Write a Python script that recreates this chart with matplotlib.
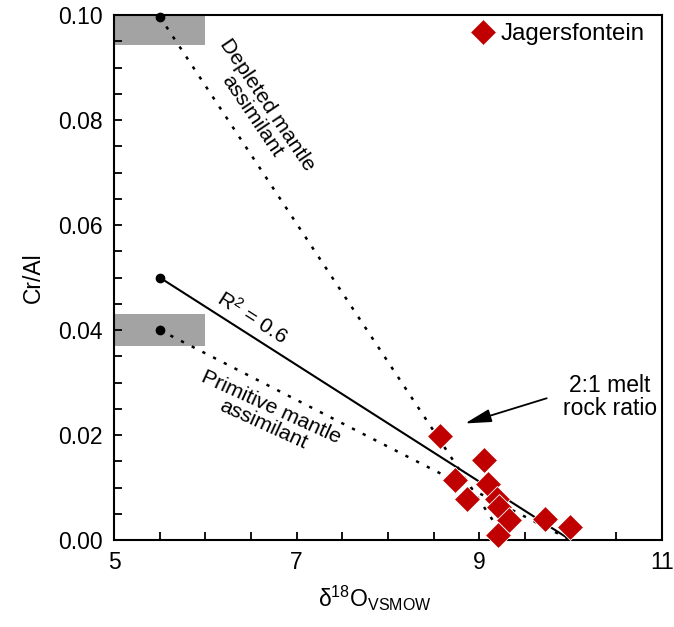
import matplotlib
matplotlib.use('Agg')
import matplotlib.pyplot as plt
from matplotlib.ticker import MultipleLocator
from matplotlib.patches import Rectangle

plt.rcParams['font.family'] = ['Liberation Sans', 'DejaVu Sans']
plt.rcParams['mathtext.fontset'] = 'custom'
plt.rcParams['mathtext.rm'] = 'Liberation Sans'
plt.rcParams['mathtext.it'] = 'Liberation Sans:italic'
plt.rcParams['mathtext.default'] = 'regular'

# Jagersfontein data
d18O = [8.57, 9.05, 8.73, 9.10, 8.87, 9.19, 9.21, 9.32, 9.72, 9.99, 9.20]
cr_al = [0.0198, 0.0152, 0.0114, 0.0107, 0.0078, 0.0078, 0.0062, 0.0039, 0.0040, 0.0024, 0.0010]

# regression / mixing lines
fit_x = [5.5, 10.0]
fit_y = [0.050, 0.0]
depleted_x = [5.5, 9.29]
depleted_y = [0.0997, 0.0]
primitive_x = [5.5, 10.0]
primitive_y = [0.040, 0.0]

# assimilant ranges (grey boxes)
assim_box_x = [5.0, 6.0]
depleted_box_y = [0.0943, 0.100]
primitive_box_y = [0.037, 0.043]

# arrow
arrow_tail = (9.738, 0.0270)
arrow_head = (8.843, 0.0222)

xtick_labels = [5, 7, 9, 11]
ytick_labels = [0.00, 0.02, 0.04, 0.06, 0.08, 0.10]

FS = 16.5
FS_NOTE = 15.3
RED = '#C00000'
GREY = '#A3A3A3'

fig = plt.figure(figsize=(6.74, 6.27), dpi=100)
ax = fig.add_axes([114/674, 1 - 540/627, (662-114)/674, (540-15)/627])

# grey boxes
for by in (depleted_box_y, primitive_box_y):
    ax.add_patch(Rectangle((assim_box_x[0], by[0]), assim_box_x[1]-assim_box_x[0], by[1]-by[0],
                           facecolor=GREY, edgecolor='none', zorder=1))

dot = (0, (1.3, 3.5))
ax.plot(depleted_x, depleted_y, color='black', lw=1.8, linestyle=dot, zorder=2)
ax.plot(primitive_x, primitive_y, color='black', lw=1.8, linestyle=dot, zorder=2)
ax.plot(fit_x, fit_y, color='black', lw=1.5, zorder=3)

# end-member dots
ax.plot([depleted_x[0], fit_x[0], primitive_x[0]], [depleted_y[0], fit_y[0], primitive_y[0]],
        'o', color='black', ms=6, zorder=4, clip_on=False)

ax.plot(d18O, cr_al, 'D', color=RED, ms=13.5, mec='white', mew=0.6, linestyle='none',
        zorder=5, label='Jagersfontein', clip_on=False)

ax.annotate('', xy=arrow_head, xytext=arrow_tail,
            arrowprops=dict(arrowstyle='-|>,head_length=0.8,head_width=0.2', lw=1.3,
                            color='black', shrinkA=0, shrinkB=0, mutation_scale=20))

ax.text(10.43, 0.0272, '2:1 melt\nrock ratio', fontsize=FS, ha='center', va='center',
        multialignment='center', linespacing=1.0)
ax.text(6.593, 0.0818, 'Depleted mantle\nassimilant', fontsize=FS_NOTE, ha='center', va='center',
        rotation=-56, rotation_mode='anchor', multialignment='center', linespacing=1.0)
ax.text(6.52, 0.0424, 'R$^2$ = 0.6', fontsize=FS_NOTE, ha='center', va='center',
        rotation=-32.5, rotation_mode='anchor')
ax.text(6.675, 0.0236, 'Primitive mantle\nassimilant', fontsize=FS_NOTE, ha='center', va='center',
        rotation=-24.5, rotation_mode='anchor', multialignment='center', linespacing=1.0)

ax.set_xlim(5, 11)
ax.set_ylim(0, 0.10)
ax.set_xticks(xtick_labels)
ax.set_xticklabels([str(v) for v in xtick_labels])
ax.set_yticks(ytick_labels)
ax.set_yticklabels([f'{v:.2f}' for v in ytick_labels])
ax.xaxis.set_minor_locator(MultipleLocator(0.5))
ax.yaxis.set_minor_locator(MultipleLocator(0.005))
ax.tick_params(which='both', direction='in', length=6, width=1.3, top=False, right=False,
               labelsize=FS, pad=8)
for s in ax.spines.values():
    s.set_linewidth(1.5)

ax.set_xlabel(r'δ$^{18}$O$_{VSMOW}$', fontsize=FS)
ax.xaxis.set_label_coords(0.476, -0.083)
ax.set_ylabel('Cr/Al', fontsize=FS, labelpad=10)

leg = ax.legend(loc='upper right', bbox_to_anchor=(1 - 5/548, 1 + 4/525), frameon=False,
                fontsize=17.3, handlelength=1.0, handletextpad=0.25, borderaxespad=0.1,
                markerscale=1.0)

fig.savefig('out.png', dpi=100)
